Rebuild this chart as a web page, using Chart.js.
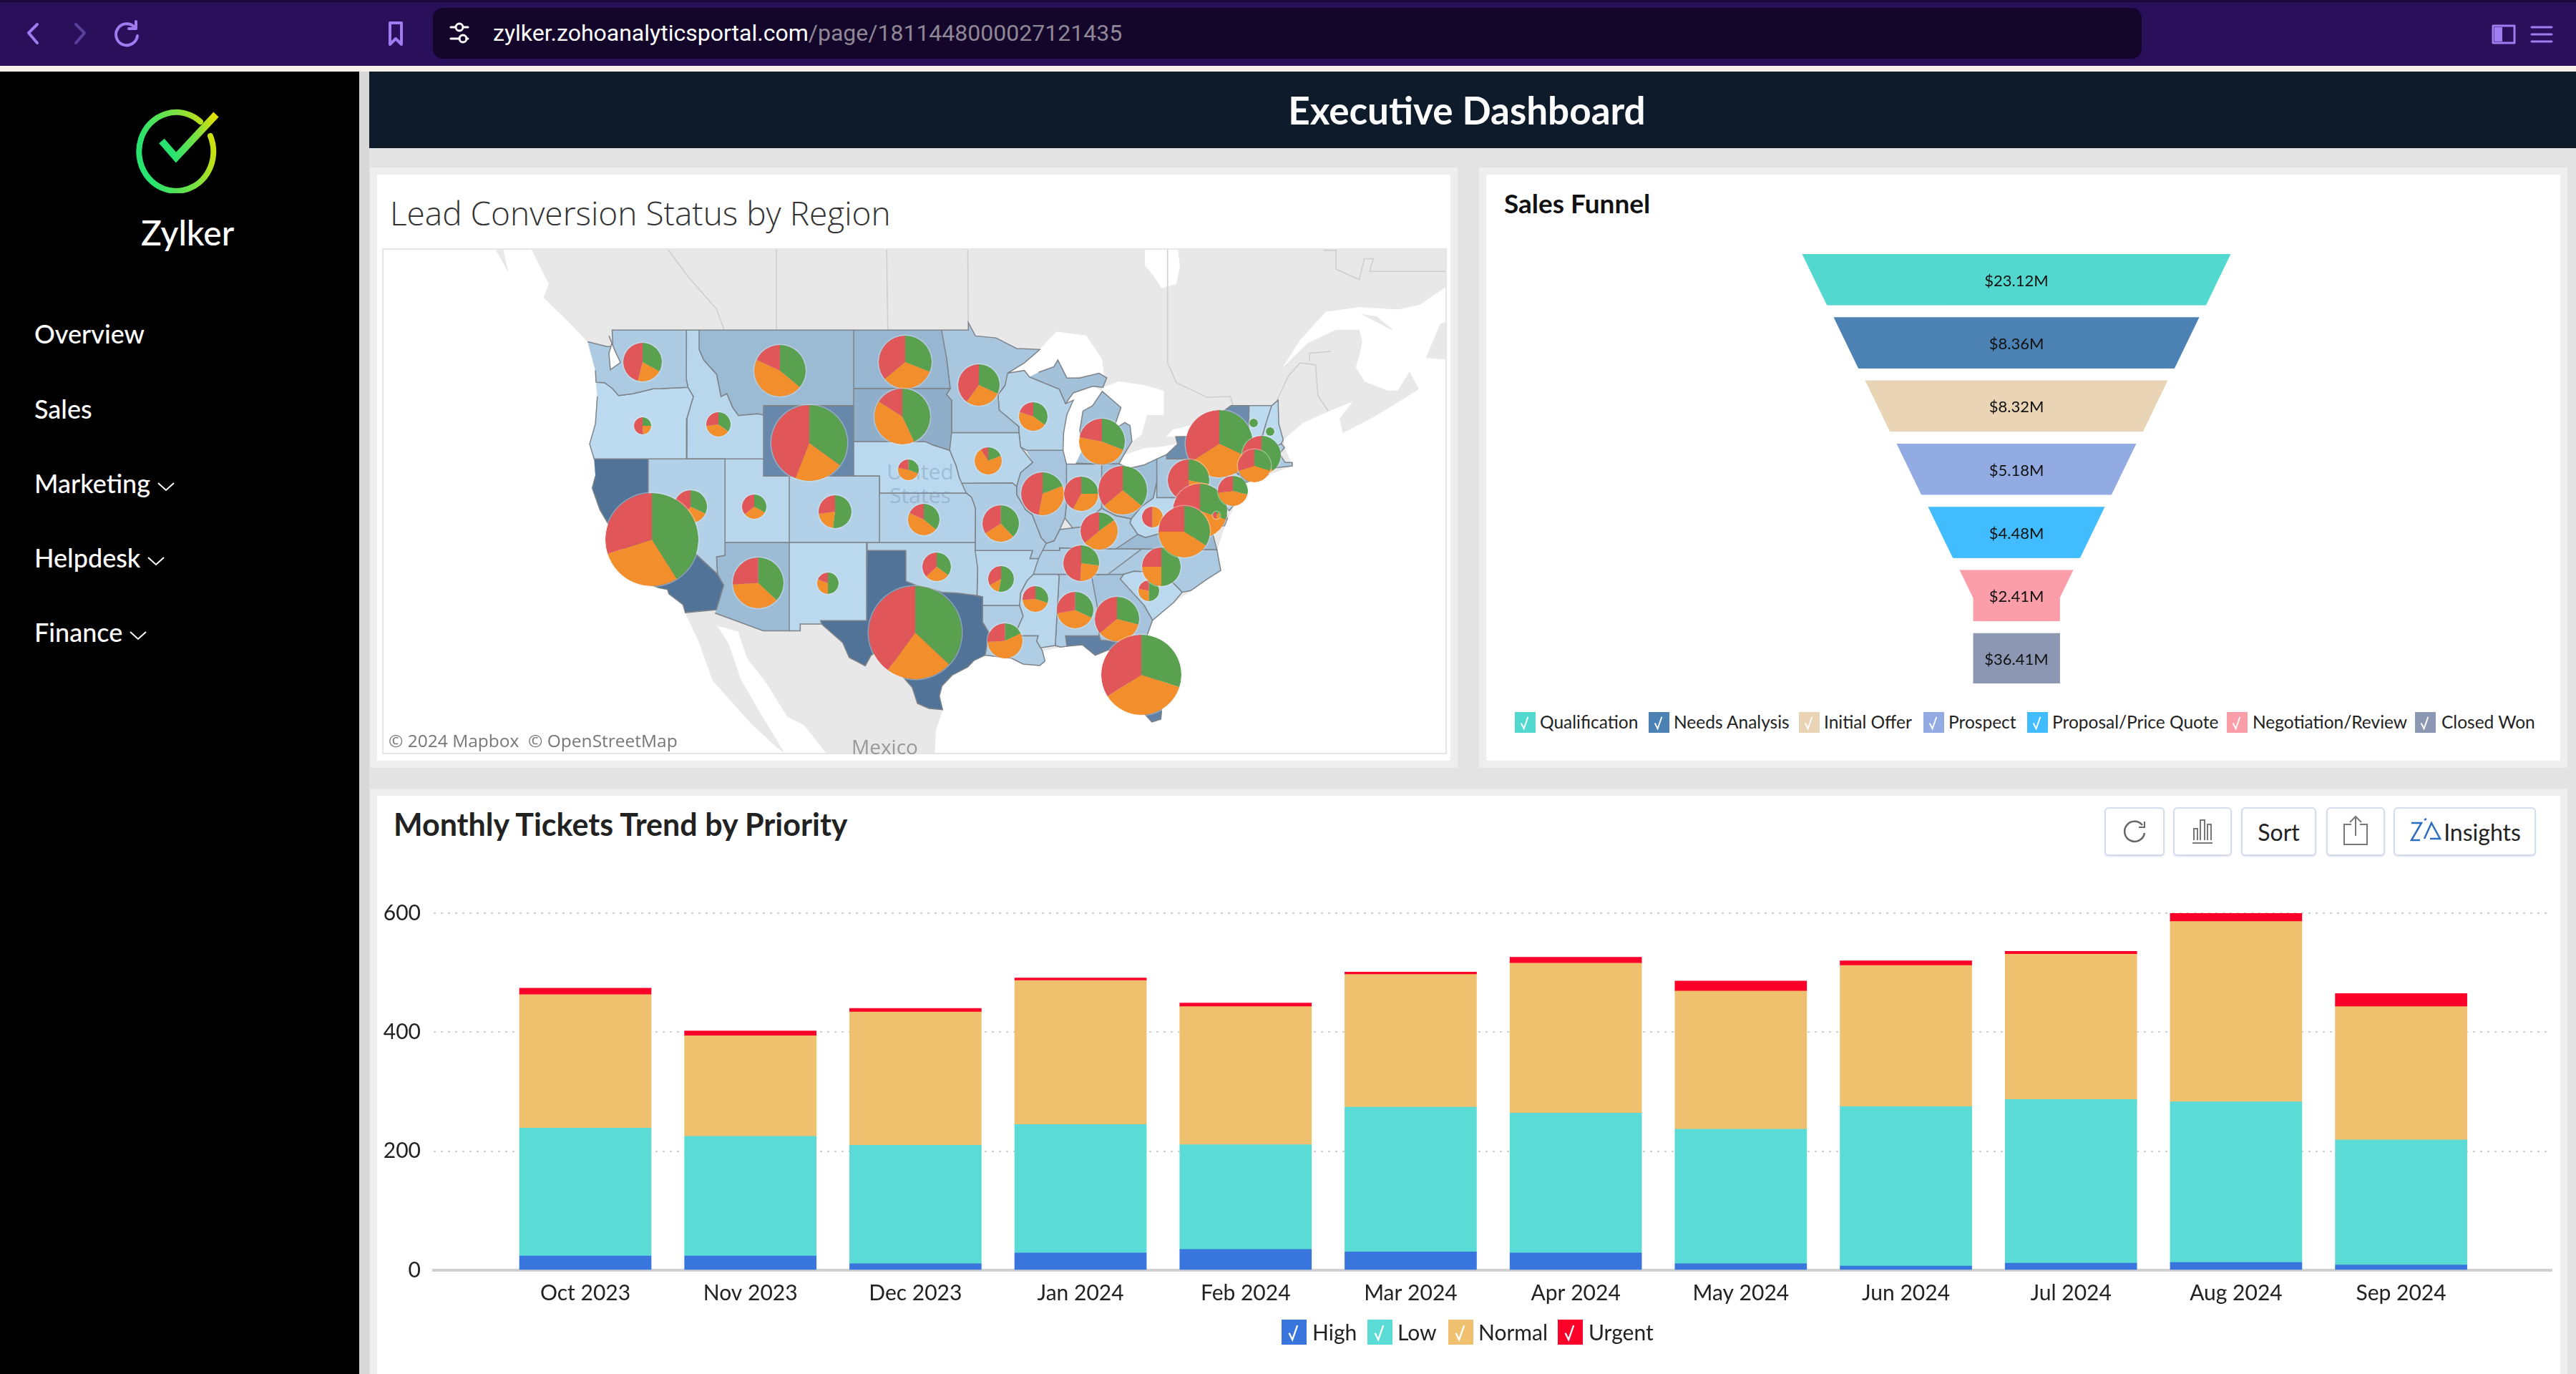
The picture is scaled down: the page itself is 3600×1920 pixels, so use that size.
<!DOCTYPE html>
<html>
<head>
<meta charset="utf-8">
<title>Executive Dashboard</title>
<script src="https://cdn.jsdelivr.net/npm/chart.js@4"></script>
<style>
html, body { margin: 0; padding: 0; }
body { width: 3600px; height: 1920px; overflow: hidden; position: relative; background: #e3e3e3; font-family: Lato, sans-serif; color: #222; }
.abs, canvas { position: absolute; }
.panel { position: absolute; background: #fff; box-shadow: 0 0 0 10px #eeeeee; }
.menu { position: absolute; left: 48px; color: #fff; font-size: 36px; line-height: 44px; font-weight: 500; white-space: nowrap; }
.menu svg { margin-left: 10px; vertical-align: 2px; }
.legend-box { position: absolute; }
.legend-text { position: absolute; white-space: nowrap; color: #222; }
.btn { position: absolute; top: 1128px; height: 64px; background: #fff; border: 2px solid #d5dcec; border-radius: 6px; display: flex; align-items: center; justify-content: center; font-size: 32px; color: #222; box-shadow: 0 1px 2px #dde; }
</style>
</head>
<body>

<!-- browser bar -->
<div class="abs" style="left:0;top:0;width:3600px;height:92px;background:#2a0f5b;border-top:3px solid #1a0a3c;box-sizing:border-box"></div>
<div class="abs" style="left:0;top:92px;width:3600px;height:8px;background:#f8f1e8"></div>
<div class="abs" style="left:605px;top:11px;width:2388px;height:71px;background:#14052a;border-radius:14px"></div>
<svg class="abs" style="left:0;top:0" width="3600" height="92" fill="none" stroke-linecap="round" stroke-linejoin="round">
  <path d="M52 34 L40 46 L52 60" stroke="#a07cf0" stroke-width="4"/>
  <path d="M106 34 L118 46 L106 60" stroke="#59409a" stroke-width="4"/>
  <path d="M188 38 A15 15 0 1 0 192 50 M190 30 L190 40 L180 40" stroke="#a07cf0" stroke-width="4"/>
  <path d="M545 32 H561 V62 L553 54 L545 62 Z" stroke="#a07cf0" stroke-width="4"/>
  <path d="M630 38 H636 M648 38 H654 M630 54 H642 M652 54 H654" stroke="#fff" stroke-width="3"/>
  <circle cx="642" cy="38" r="5" stroke="#fff" stroke-width="3"/><circle cx="647" cy="54" r="5" stroke="#fff" stroke-width="3"/>
  <rect x="3484" y="36" width="30" height="24" stroke="#a07cf0" stroke-width="3"/><rect x="3486" y="38" width="11" height="20" fill="#a07cf0"/>
  <path d="M3538 38 H3566 M3538 48 H3566 M3538 58 H3566" stroke="#a07cf0" stroke-width="3"/>
</svg>
<div class="abs" style="left:689px;top:27px;font:32px Roboto,sans-serif;white-space:nowrap;color:#fff">zylker.zohoanalyticsportal.com<span style="color:#8f8796">/page/1811448000027121435</span></div>

<!-- sidebar -->
<div class="abs" style="left:0;top:100px;width:502px;height:1820px;background:#000"></div>
<div class="abs" style="left:502px;top:100px;width:14px;height:1820px;background:#d8d8d8"></div>
<svg class="abs" style="left:180px;top:140px" width="140" height="130" viewBox="180 140 140 130" fill="none">
  <defs><linearGradient id="logoGrad" x1="0" x2="1" y1="0.3" y2="0"><stop offset="0" stop-color="#27e36f"/><stop offset="0.55" stop-color="#7fe040"/><stop offset="1" stop-color="#e6e000"/></linearGradient></defs>
  <path d="M280 170 A52 55 0 1 0 294 190" stroke="url(#logoGrad)" stroke-width="8" stroke-linecap="round"/>
  <path d="M226 197 L246 220 L302 160" stroke="url(#logoGrad)" stroke-width="10" stroke-linejoin="miter"/>
</svg>
<div class="abs" style="left:197px;top:296px;width:130px;text-align:center;color:#fff;font-size:48px;line-height:58px;font-weight:500">Zylker</div>
<div class="menu" style="top:444px">Overview</div>
<div class="menu" style="top:549px">Sales</div>
<div class="menu" style="top:653px">Marketing<svg width="24" height="14" fill="none"><path d="M1 2 L12 12 L23 2" stroke="#fff" stroke-width="2"/></svg></div>
<div class="menu" style="top:757px">Helpdesk<svg width="24" height="14" fill="none"><path d="M1 2 L12 12 L23 2" stroke="#fff" stroke-width="2"/></svg></div>
<div class="menu" style="top:861px">Finance<svg width="24" height="14" fill="none"><path d="M1 2 L12 12 L23 2" stroke="#fff" stroke-width="2"/></svg></div>

<!-- header -->
<div class="abs" style="left:516px;top:100px;width:3084px;height:107px;background:#0d1b2a"></div>
<div class="abs" style="left:516px;top:122px;width:3068px;text-align:center;color:#fff;font-size:53px;line-height:64px;font-weight:700">Executive Dashboard</div>

<!-- panels -->
<div class="panel" style="left:527px;top:244px;width:1500px;height:819px"></div>
<div class="panel" style="left:2077px;top:244px;width:1501px;height:819px"></div>
<div class="panel" style="left:527px;top:1112px;width:3051px;height:818px"></div>
<div class="abs" style="left:545px;top:266px;font:300 46px 'Open Sans',sans-serif;color:#333;white-space:nowrap">Lead Conversion Status by Region</div>
<div class="abs" style="left:2102px;top:260px;font-size:37px;line-height:48px;font-weight:700;color:#111;white-space:nowrap">Sales Funnel</div>
<div class="abs" style="left:550px;top:1127px;font-size:43px;line-height:50px;font-weight:700;color:#222;white-space:nowrap">Monthly Tickets Trend by Priority</div>

<!-- map -->
<div class="abs" style="left:534px;top:347px;width:1484px;height:703px;border:2px solid #e6e6e6"></div>
<canvas id="mapChart" width="1484" height="703" style="left:536px;top:349px"></canvas>
<div class="abs" style="left:1190px;top:1024px;font:28px 'Open Sans',sans-serif;color:#999">Mexico</div>
<div class="abs" style="left:1236px;top:642px;width:100px;text-align:center;font:30px/33px 'Open Sans',sans-serif;color:rgba(120,150,180,.45)">United States</div>
<div class="abs" style="left:537px;top:1018px;padding:0 6px 0 6px;background:rgba(255,255,255,.8);font:24.5px 'Open Sans',sans-serif;color:#777">© 2024 Mapbox &nbsp;© OpenStreetMap</div>
<div id="pies"></div>

<!-- funnel -->
<canvas id="funnelChart" width="640" height="600" style="left:2498px;top:355px"></canvas>
<div id="funnelLegend"></div>

<!-- tickets -->
<canvas id="ticketsChart" width="3051" height="620" style="left:527px;top:1240px"></canvas>
<div id="ticketsLegend"></div>
<div class="btn" style="left:2941px;width:80px"><svg width="44" height="44" fill="none" stroke="#666" stroke-width="2.5"><path d="M33 13 A14 14 0 1 0 36 24"/><path d="M36 8 V16 H28" stroke-width="2"/></svg></div>
<div class="btn" style="left:3037px;width:78px"><svg width="44" height="44" fill="none" stroke="#777" stroke-width="2"><path d="M8 38 H36 M10 34 V18 H15 V34 M19 34 V6 H25 V34 M29 34 V12 H34 V34"/></svg></div>
<div class="btn" style="left:3132px;width:101px">Sort</div>
<div class="btn" style="left:3251px;width:78px"><svg width="44" height="48" fill="none" stroke="#777" stroke-width="2"><path d="M16 14 H6 V42 H38 V14 H28 M22 30 V3 M14 11 L22 3 L30 11"/></svg></div>
<div class="btn" style="left:3345px;width:195px"><svg width="46" height="40" fill="none" stroke="#2d6dc0" stroke-width="2.5" style="margin-right:3px"><path d="M4 8 H18 L4 32 H16 M22 30 L32 8 L44 30 H30 M22 4 L25 2"/></svg>Insights</div>

<script>
// Tickets by month and priority
const ticketMonths = ['Oct 2023', 'Nov 2023', 'Dec 2023', 'Jan 2024', 'Feb 2024', 'Mar 2024', 'Apr 2024', 'May 2024', 'Jun 2024', 'Jul 2024', 'Aug 2024', 'Sep 2024'];
const ticketsHigh = [24, 24, 11, 29, 35, 31, 29, 11, 7, 12, 13, 9];
const ticketsLow = [215, 201, 199, 216, 176, 243, 235, 226, 268, 275, 270, 210];
const ticketsNormal = [224, 169, 224, 242, 232, 223, 252, 232, 237, 244, 303, 224];
const ticketsUrgent = [11, 8, 6, 4, 6, 4, 10, 17, 8, 5, 14, 22];

// Sales funnel
const funnelStages = ['Qualification', 'Needs Analysis', 'Initial Offer', 'Prospect', 'Proposal/Price Quote', 'Negotiation/Review', 'Closed Won'];
const funnelValues = [23.12, 8.36, 8.32, 5.18, 4.48, 2.41, 36.41];

// Leads per state: where the pie sits, how many leads, and the split in percent
const regionNames = ['WA','OR','ID','MT','ND','SD','WY','NE','NV','UT','CO','KS','CA','AZ','NM','OK','TX','MN','IA','WI','MI','IL','MO','IN','OH','KY','WV','AR','TN','MS','AL','GA','LA','FL','SC','NC','NY','PA','MD','DE','VA','NJ','VT','NH','MA','CT'];
const regionLon = [-120.44,-120.44,-114.55,-109.77,-100.05,-100.27,-107.52,-99.8,-116.72,-111.77,-105.52,-98.61,-119.72,-111.49,-106.05,-97.61,-99.27,-94.33,-93.61,-90.1,-84.77,-89.38,-92.61,-86.38,-83.16,-85.02,-80.88,-92.61,-86.38,-89.94,-86.88,-83.61,-92.33,-81.72,-81.16,-80.16,-75.69,-78.05,-77.16,-75.88,-78.41,-74.61,-73.0,-71.72,-72.38,-72.94];
const regionLat = [47.35,43.89,43.97,46.87,47.35,44.42,42.91,41.39,39.2,39.17,38.9,38.41,37.2,34.47,34.42,35.47,31.21,46.12,41.88,44.4,42.99,39.96,38.16,39.96,40.17,37.69,38.55,34.71,35.69,33.44,32.69,32.12,30.67,28.39,33.95,35.47,42.87,40.78,38.95,38.68,37.67,40.13,44.05,43.56,42.2,41.6];
const regionLeads = [729,144,289,1296,1369,1521,2809,210,529,289,529,484,4225,1260,225,400,4225,841,361,400,1024,900,655,576,1156,676,210,324,625,324,655,961,600,3136,210,729,2209,841,1444,25,1296,441,36,36,729,529];
const regionGreen = [33,25,35,36,31,43,35,31,32,33,52,36,41,37,50,35,37,32,19,35,31,19,38,25,36,15,0,53,27,30,32,29,18,30,50,50,32,28,30,10,34,29,100,100,40,30];
const regionOrange = [21,24,38,46,33,41,21,47,28,31,21,46,29,37,31,28,23,28,72,45,47,34,28,33,28,49,50,14,24,44,40,35,56,36,28,25,34,20,20,40,41,44,0,0,20,40];
const regionRed = [46,51,27,18,36,16,44,22,40,36,27,18,30,26,19,37,40,40,9,20,22,47,34,42,36,36,50,33,49,26,28,36,26,34,22,25,34,52,50,50,25,27,0,0,40,30];

// Base map outlines as lon,lat pairs
const stateOutlines = {
  WA: [-124.7,48.4,-123.2,48.15,-122.75,48.15,-122.8,49,-117.03,49,-117.04,46.42,-116.92,46,-119,45.93,-119.6,45.92,-121.2,45.65,-122.3,45.55,-122.8,45.95,-123.4,46.25,-124.05,46.27,-124.1,46.9],
  OR: [-124.05,46.27,-123.4,46.25,-122.8,45.95,-122.3,45.55,-121.2,45.65,-119.6,45.92,-119,45.93,-116.92,46,-116.5,45.5,-117,44.3,-117.03,42,-124.2,42,-124.55,42.85,-124.1,44,-123.95,45.5],
  CA: [-124.2,42,-120,42,-120,39,-114.63,35,-114.15,34.3,-114.72,32.72,-117.12,32.53,-117.3,33.05,-118.4,33.75,-118.5,34.03,-119.2,34.15,-120.6,34.55,-120.65,35.15,-121.9,36.6,-122.5,37.5,-123,38,-123.75,39,-124.35,40.3,-124.1,41],
  NV: [-120,42,-114.04,42,-114.04,36.2,-114.7,36.1,-114.63,35,-120,39],
  ID: [-117.03,49,-116.05,49,-116.05,48,-115.7,47.45,-114.7,46.7,-114.35,45.5,-113.9,45.65,-113.45,44.9,-113,44.45,-111.5,44.55,-111.05,44.48,-111.05,42,-117.03,42,-117,44.3,-116.5,45.5,-116.92,46,-117.04,46.42],
  MT: [-116.05,49,-104.05,49,-104.05,45,-111.05,45,-111.05,44.48,-111.5,44.55,-113,44.45,-113.45,44.9,-113.9,45.65,-114.35,45.5,-114.7,46.7,-115.7,47.45,-116.05,48],
  WY: [-111.05,45,-104.05,45,-104.05,41,-111.05,41],
  UT: [-114.04,42,-111.05,42,-111.05,41,-109.05,41,-109.05,37,-114.04,37],
  CO: [-109.05,41,-102.05,41,-102.05,37,-109.05,37],
  AZ: [-114.72,32.72,-114.15,34.3,-114.63,35,-114.7,36.1,-114.04,36.2,-114.04,37,-109.05,37,-109.05,31.33,-111.07,31.33,-114.81,32.5],
  NM: [-109.05,37,-103,37,-103.05,32,-106.62,32,-106.53,31.78,-108.2,31.78,-108.2,31.33,-109.05,31.33],
  ND: [-104.05,49,-97.23,49,-96.85,47.6,-96.56,45.94,-104.05,45.94],
  SD: [-104.05,45.94,-96.56,45.94,-96.85,45.6,-96.45,45.3,-96.45,43.5,-96.6,42.5,-97.9,42.8,-98.5,43,-104.05,43],
  NE: [-104.05,43,-98.5,43,-97.9,42.8,-96.6,42.5,-96.1,41.6,-95.85,40.9,-95.31,40,-102.05,40,-102.05,41,-104.05,41],
  KS: [-102.05,40,-95.31,40,-94.9,39.75,-94.6,39.1,-94.62,37,-102.05,37],
  OK: [-103,37,-94.62,37,-94.62,36.5,-94.43,35.4,-94.48,33.64,-96,33.8,-97.2,33.85,-98.1,34.1,-99.2,34.3,-100,34.56,-100,36.5,-103,36.5],
  TX: [-106.62,32,-103.05,32,-103.04,36.5,-100,36.5,-100,34.56,-99.2,34.3,-98.1,34.1,-97.2,33.85,-96,33.8,-94.48,33.64,-94.04,33.55,-94.04,33,-94.05,31.9,-93.55,31.2,-93.85,29.7,-94.7,29.35,-95.2,28.9,-96.4,28.35,-97.2,27.6,-97.4,26.9,-97.15,25.96,-98.2,26.05,-99.1,26.4,-99.5,27.5,-100.3,28.3,-100.7,29.1,-101.4,29.77,-102.3,29.88,-102.7,29.7,-103.15,28.98,-104.4,29.55,-104.9,30.55,-106.5,31.75],
  MN: [-97.23,49,-95.15,49,-95.15,49.38,-94.6,48.7,-93,48.6,-91.4,48.05,-89.6,48,-90.8,47.3,-92.1,46.75,-92.3,46.1,-92.85,45.6,-92.75,44.75,-91.25,43.85,-91.22,43.5,-96.45,43.5,-96.45,45.3,-96.85,45.6,-96.56,45.94,-96.85,47.6],
  IA: [-96.45,43.5,-91.22,43.5,-91.1,42.7,-90.15,41.8,-91.1,41.2,-91.4,40.4,-91.73,40.61,-95.76,40.58,-95.85,40.9,-96.1,41.6,-96.6,42.5],
  MO: [-95.76,40.58,-91.73,40.61,-91.4,40.4,-91.4,39.9,-90.7,39,-90.2,38.7,-89.5,37.3,-89.1,36.95,-89.7,36,-90.35,36,-90.15,36.5,-94.62,36.5,-94.62,37,-94.6,39.1,-94.9,39.75,-95.31,40],
  AR: [-94.62,36.5,-90.15,36.5,-90.35,36,-89.7,36,-90.1,35,-90.6,34.6,-91.1,33.8,-91.17,33,-94.04,33,-94.04,33.55,-94.48,33.64,-94.43,35.4],
  LA: [-94.04,33,-91.17,33,-90.9,32.3,-91.6,31,-89.73,31,-89.85,30.65,-89.55,30.2,-89.4,30,-89.2,29.3,-89.6,29,-90.9,29.1,-91.8,29.5,-93.85,29.7,-93.55,31.2,-94.05,31.9],
  WI: [-92.1,46.75,-90.8,46.9,-90.4,46.55,-88.1,45.9,-87.6,45.1,-87,45.3,-87.5,44.5,-87.75,43.5,-87.8,42.5,-90.65,42.5,-91.1,42.7,-91.22,43.5,-91.25,43.85,-92.75,44.75,-92.85,45.6,-92.3,46.1],
  IL: [-90.65,42.5,-87.8,42.5,-87.53,41.7,-87.53,39.35,-87.65,38.5,-88.05,37.8,-88.5,37.1,-89.1,36.95,-89.5,37.3,-90.2,38.7,-90.7,39,-91.4,39.9,-91.4,40.4,-91.1,41.2,-90.15,41.8],
  IN: [-87.53,41.7,-87,41.7,-84.8,41.7,-84.8,39.1,-85.4,38.7,-86,38,-87.05,37.9,-87.65,38.5,-87.53,39.35],
  MI: [-86.8,41.76,-84.8,41.7,-83.45,41.73,-83.1,42.2,-82.45,43,-82.6,43.9,-83,44.07,-83.9,43.65,-83.3,44.9,-84.75,45.78,-85.5,45,-86.25,44.7,-86.5,43.6,-86.2,42.7],
  UP: [-90.4,46.55,-88.1,45.9,-87.6,45.1,-87,45.7,-85.5,46.05,-84.7,46,-84.4,46.5,-85,46.75,-86.5,46.5,-87.5,46.5,-88.2,47.45,-88.5,47.1,-89.7,46.8],
  OH: [-84.8,41.7,-83.45,41.73,-82.7,41.45,-81.5,41.65,-80.52,42,-80.52,40.65,-80.8,39.7,-81.7,39.2,-82.5,38.45,-83.7,38.65,-84.8,39.1],
  KY: [-89.5,36.5,-88.07,36.5,-88.07,36.67,-83.7,36.6,-82,37.5,-82.6,38.2,-82.5,38.45,-83.7,38.65,-84.8,39.1,-85.4,38.7,-86,38,-87.05,37.9,-88.05,37.8,-88.5,37.1,-89.1,36.95],
  TN: [-90.1,35,-88.2,35,-84.32,34.99,-81.7,36.59,-83.7,36.6,-88.07,36.67,-88.07,36.5,-89.5,36.5,-89.7,36],
  MS: [-90.1,35,-88.2,35,-88.1,34.9,-88.4,30.35,-89.55,30.2,-89.85,30.65,-89.73,31,-91.6,31,-90.9,32.3,-91.17,33,-91.1,33.8,-90.6,34.6],
  AL: [-88.2,35,-85.6,34.98,-85,32.3,-85,31,-87.6,31,-87.5,30.3,-88,30.25,-88.4,30.35,-88.1,34.9],
  GA: [-85.6,34.98,-83.1,35,-83.35,34.7,-81.5,33,-80.85,32.03,-81.4,30.72,-82.05,30.36,-82.2,30.57,-84.86,30.7,-85,31,-85,32.3],
  FL: [-87.6,31,-85,31,-84.86,30.7,-82.2,30.57,-82.05,30.36,-81.4,30.72,-80.6,28.5,-80.05,26.9,-80.2,25.3,-80.9,25.1,-81.75,25.95,-82.65,27.7,-82.75,28.9,-83.7,29.9,-84.3,30.05,-85.3,29.7,-86.3,30.4,-87.5,30.3],
  SC: [-83.35,34.7,-83.1,35,-82.3,35.2,-81,35.15,-80.8,34.82,-79.67,34.8,-78.55,33.86,-79.2,33.2,-80.85,32.03,-81.5,33],
  NC: [-84.32,34.99,-83.1,35,-82.3,35.2,-81,35.15,-80.8,34.82,-79.67,34.8,-78.55,33.86,-77.9,33.95,-76.6,34.7,-75.55,35.25,-75.85,36.55,-81.7,36.59],
  VA: [-83.7,36.6,-81.7,36.59,-75.85,36.55,-76,37,-76.3,37.9,-77.2,38.4,-77.05,38.85,-77.75,39.3,-78.35,39.4,-78.85,38.8,-79.65,38.55,-80.3,37.55,-81.4,37.3,-82,37.5],
  WV: [-82.5,38.45,-82.6,38.2,-82,37.5,-81.4,37.3,-80.3,37.55,-79.65,38.55,-78.85,38.8,-78.35,39.4,-77.75,39.3,-78.2,39.7,-79.48,39.72,-80.52,39.72,-80.52,40.65,-80.8,39.7,-81.7,39.2],
  MD: [-79.48,39.72,-75.79,39.72,-75.7,38.46,-75.05,38.45,-75.25,38.03,-75.95,37.95,-76.1,39.2,-76.5,38.4,-77.2,38.4,-77.05,38.85,-77.75,39.3,-78.2,39.7],
  DE: [-75.79,39.72,-75.4,39.8,-75.05,38.45,-75.7,38.46],
  PA: [-80.52,42,-79.76,42.25,-79.76,42,-75.35,42,-74.7,41.36,-75.13,40.98,-75.05,40.4,-74.75,40.2,-75.4,39.8,-75.79,39.72,-80.52,39.72],
  NY: [-79.76,42.25,-78.9,42.85,-79.05,43.27,-76.8,43.3,-76.2,43.55,-76.3,44.2,-74.75,45,-73.35,45,-73.4,43.6,-73.25,42.75,-73.5,42.05,-73.5,41.3,-73.65,41,-72,41.05,-73.7,40.6,-74,40.6,-73.95,41,-74.7,41.36,-75.35,42,-79.76,42],
  NJ: [-74.7,41.36,-73.95,41,-74.1,40.5,-73.95,39.9,-74.4,39.4,-74.9,38.95,-75.55,39.5,-74.75,40.2,-75.05,40.4,-75.13,40.98],
  CT: [-73.5,42.05,-71.8,42.02,-71.85,41.32,-73.65,41,-73.5,41.3],
  RI: [-71.8,42.02,-71.38,42.02,-71.2,41.5,-71.85,41.32],
  MA: [-73.5,42.05,-73.25,42.75,-71.3,42.7,-70.85,42.87,-70.6,42.65,-71,42.3,-70.55,41.8,-70,41.8,-70,41.6,-71.2,41.5,-71.38,42.02,-71.8,42.02],
  VT: [-73.35,45,-71.6,45,-72.05,44,-72.45,43,-72.46,42.73,-73.25,42.75,-73.4,43.6],
  NH: [-71.6,45,-71.1,45.3,-71.05,44,-70.7,43.1,-70.85,42.87,-71.3,42.7,-72.46,42.73,-72.45,43,-72.05,44]
};
const pugetSound = [-123.05,48.7,-122.6,47.96,-122.16,47.32,-122.94,46.94,-123.05,47.8,-122.83,48.3];
const landOutlines = [
  [-129.5,54,-129.1,53,-127.7,51.3,-128.1,50.63,-126,49.3,-124.7,48.4,-124.1,46.9,-124.05,46.27,-123.95,45.5,-124.1,44,-124.55,42.85,-124.2,42,-124.1,41,-124.35,40.3,-123.75,39,-123,38,-122.5,37.5,-121.9,36.6,-120.65,35.15,-120.6,34.55,-119.2,34.15,-118.5,34.03,-118.4,33.75,-117.3,33.05,-117.12,32.53,-116,30.5,-115,28,-114,27,-112,25,-110,23.3,-109.5,23,-110.5,24.5,-111.5,26,-112.8,28,-113.8,30.5,-114.7,31.7,-113,31.3,-112.3,29.5,-110.8,27.8,-109.2,25.5,-107.9,24.9,-106.3,23.06,-105.5,22,-105,20,-97.5,20,-97.8,22.3,-97.7,24.5,-97.15,25.96,-97.4,26.9,-97.2,27.6,-96.4,28.35,-95.2,28.9,-94.7,29.35,-93.85,29.7,-91.8,29.5,-90.9,29.1,-89.6,29,-89.2,29.3,-89.4,30,-88,30.25,-86.3,30.4,-85.3,29.7,-84.3,30.05,-83.7,29.9,-82.75,28.9,-82.65,27.7,-81.75,25.95,-80.9,25.1,-80.2,25.3,-80.05,26.9,-80.6,28.5,-81.4,30.72,-80.85,32.03,-79.2,33.2,-77.9,33.95,-76.6,34.7,-75.55,35.25,-75.85,36.55,-75.25,38.03,-74.4,39.4,-74,40.6,-72,41.05,-70,41.6,-70.6,42.65,-70.7,43.1,-69.2,44.05,-67.2,44.7,-65.1,45.3,-64.3,45.8,-65.3,45.2,-66.3,44.3,-66.07,43.5,-63.66,44.4,-61.8,45.2,-60.2,45.9,-60.9,46.8,-61.8,45.8,-62.6,45.8,-64.4,46.3,-65.1,47.07,-64.8,47.7,-64.6,48.4,-64.8,49,-66.6,49,-68.8,48.31,-70.9,46.94,-69.4,48.5,-67.4,49.94,-64.8,50.17,-61.8,50.05,-60.1,50.29,-58.3,51.07,-57,51.3,-57,54],
  [-59.6,47.56,-58.5,49.3,-57.4,49.57,-57,49.7,-57,47.43],
  [-64.6,49.8,-62.2,49,-63.5,49.7],
  [-132.4,53.5,-131.5,53.5,-130.9,51.9]
];
const waterOutlines = [
  [-92.1,46.75,-90.4,46.6,-88.5,47,-88.2,47.45,-87.5,46.5,-85,46.75,-84.6,46.5,-84.8,47.5,-86,48.7,-88.3,48.9,-89.6,48,-90.8,47.3],
  [-87.8,42.5,-87.53,41.7,-87,41.7,-86.8,41.76,-86.2,42.7,-86.5,43.6,-86.25,44.7,-85.5,45,-84.75,45.78,-85.5,46.05,-87,45.7,-87.6,45.1,-87,45.3,-87.5,44.5,-87.75,43.5],
  [-84.7,46,-84.75,45.78,-83.3,44.9,-83.9,43.65,-83,44.07,-82.6,43.9,-82.45,43,-81.7,43.4,-81.3,44.5,-80,44.5,-80,45.8,-81.5,46.1,-83.5,46.3],
  [-83.45,41.73,-82.7,41.45,-81.5,41.65,-80.52,42,-79.76,42.25,-78.9,42.85,-80,42.7,-81.5,42.6,-83.1,42.2],
  [-79.76,43.3,-79.05,43.27,-76.8,43.3,-76.2,43.55,-76.3,44.1,-77.5,43.95,-79.3,43.65],
  [-81.44,53.5,-79,53.5,-78.75,52.1,-79.03,51.3,-80.14,51.1,-80.7,51.65,-81.44,52.2]
];
const borderLines = [
  [-119,53.5,-118.55,53,-116.9,51.64,-114.7,50.06,-114.1,49],
  [-110.05,53.5,-110.05,49],
  [-101.5,53.5,-101.4,49],
  [-95.2,53.5,-95.15,49.38],
  [-79.68,53.5,-79.68,47.3,-79,46.25,-76.6,45.45,-74.8,45.5,-74.6,45],
  [-71.25,45.2,-70.3,46.6,-69.4,47.3,-68.2,47.2,-68,45.55,-67.2,44.7],
  [-68.66,47.4,-68.66,47.8,-67,47.9],
  [-67.55,53.5,-67.55,52.9,-66.6,52.9,-66.6,52,-64.8,51.5,-64.4,52.5,-63.7,52.5,-64,51.9,-57,51.9]
];

// Web Mercator latitude, so the northern border stays straight and the map is in proportion
function mercator(lat) {
  return 180 / Math.PI * Math.log(Math.tan(Math.PI / 4 + lat * Math.PI / 360));
}

function toPoints(flat) {
  const pts = [];
  for (let i = 0; i < flat.length; i += 2) pts.push({ x: flat[i], y: mercator(flat[i + 1]) });
  return pts;
}

// Choropleth colour from the lead count of the state, the ramp
const rampLeads = [144, 1296, 2209, 2809, 3136, 4225];
const rampShare = [0, 0.32, 0.76, 0.8, 0.87, 1];
function leadsColor(leads) {
  const light = [189, 219, 240], dark = [82, 115, 152];
  let t = leads >= 4225 ? 1 : 0;
  for (let i = 0; i < rampLeads.length - 1; i++) {
    if (leads >= rampLeads[i] && leads < rampLeads[i + 1]) {
      t = rampShare[i] + (rampShare[i + 1] - rampShare[i]) * (leads - rampLeads[i]) / (rampLeads[i + 1] - rampLeads[i]);
    }
  }
  const c = light.map((v, i) => Math.round(v + (dark[i] - v) * t));
  return `rgb(${c[0]},${c[1]},${c[2]})`;
}

function polygon(flat, fillColor, lineColor, lineWidth) {
  return { data: toPoints(flat), showLine: true, fill: 'shape', backgroundColor: fillColor, borderColor: lineColor, borderWidth: lineWidth, pointRadius: 0 };
}

// Chart.js paints the first dataset last, so the list runs from top layer to bottom layer
const mapDatasets = [polygon(pugetSound, '#ffffff', '#7d8389', 1.5)];
for (const name in stateOutlines) {
  const key = name === 'UP' ? 'MI' : name;
  const idx = regionNames.indexOf(key);
  const leads = idx >= 0 ? regionLeads[idx] : 144;
  mapDatasets.push(polygon(stateOutlines[name], leadsColor(leads), '#7d8389', 1.5));
}
borderLines.forEach(b => mapDatasets.push({ data: toPoints(b), showLine: true, fill: false, borderColor: '#cdcdcd', borderWidth: 1.5, pointRadius: 0 }));
waterOutlines.forEach(w => mapDatasets.push(polygon(w, '#ffffff', '#ffffff', 1)));
landOutlines.forEach(l => mapDatasets.push(polygon(l, '#e8e8e8', '#e8e8e8', 1)));

const mapChart = new Chart(document.getElementById('mapChart'), {
  type: 'scatter',
  data: { datasets: mapDatasets },
  options: {
    responsive: false,
    animation: false,
    plugins: { legend: { display: false }, tooltip: { enabled: false } },
    layout: { padding: 0 },
    scales: {
      x: { type: 'linear', display: false, min: -140.55, max: -58.11 },
      y: { type: 'linear', display: false, min: 23.55, max: 62.6 }
    }
  }
});

// One small pie per state, placed with the map chart's scales
const piesDiv = document.getElementById('pies');
regionNames.forEach((name, i) => {
  const r = Math.sqrt(regionLeads[i]);
  const size = Math.round(r * 2);
  const cx = 536 + mapChart.scales.x.getPixelForValue(regionLon[i]);
  const cy = 349 + mapChart.scales.y.getPixelForValue(mercator(regionLat[i]));
  const canvas = document.createElement('canvas');
  canvas.width = size;
  canvas.height = size;
  canvas.style.left = (cx - size / 2) + 'px';
  canvas.style.top = (cy - size / 2) + 'px';
  canvas.style.borderRadius = '50%';
  canvas.style.boxShadow = '0 0 0 1.5px rgba(235,235,235,.4)';
  piesDiv.appendChild(canvas);
  new Chart(canvas, {
    type: 'pie',
    data: {
      labels: ['Won', 'Open', 'Lost'],
      datasets: [{ data: [regionGreen[i], regionOrange[i], regionRed[i]], backgroundColor: ['#59a14f', '#f28e2b', '#e15759'], borderWidth: 0 }]
    },
    options: { responsive: false, animation: false, layout: { padding: 0 }, plugins: { legend: { display: false }, tooltip: { enabled: false } } }
  });
});

// Funnel: Chart.js has no funnel type, so each stage is a closed shape on linear scales
const funnelColors = ['#53d8d0', '#4b82b3', '#e9d5b5', '#92abe3', '#40bcff', '#fb9ea9', '#8b97b3'];
const funnelDatasets = funnelStages.map((stage, i) => {
  const neck = 60, slope = 34.4, band = 0.805;
  const top = Math.max(299 - 44 * i, neck);
  const bottom = top - slope;
  const right = [{ x: top, y: i }];
  if (bottom < neck) {
    if (top > neck) right.push({ x: neck, y: i + band * (top - neck) / slope });
    right.push({ x: neck, y: i + band });
  } else {
    right.push({ x: bottom, y: i + band });
  }
  const left = right.slice().reverse().map(p => ({ x: -p.x, y: p.y }));
  return { label: stage, data: right.concat(left), showLine: true, fill: 'shape', backgroundColor: funnelColors[i], borderColor: funnelColors[i], borderWidth: 1, pointRadius: 0 };
});

const funnelValueLabels = {
  id: 'funnelValueLabels',
  afterDatasetsDraw(chart) {
    const { ctx, scales } = chart;
    ctx.save();
    ctx.font = '22px Lato';
    ctx.fillStyle = '#111';
    ctx.textAlign = 'center';
    ctx.textBaseline = 'middle';
    funnelValues.forEach((v, i) => {
      ctx.fillText('$' + v.toFixed(2) + 'M', scales.x.getPixelForValue(0), scales.y.getPixelForValue(i + 0.4025) + 2);
    });
    ctx.restore();
  }
};

new Chart(document.getElementById('funnelChart'), {
  type: 'scatter',
  data: { datasets: funnelDatasets },
  options: {
    responsive: false,
    animation: false,
    plugins: { legend: { display: false }, tooltip: { enabled: false } },
    layout: { padding: 0 },
    scales: {
      x: { type: 'linear', display: false, min: -320, max: 320 },
      y: { type: 'linear', display: false, reverse: true, min: 0, max: 6.795 }
    }
  },
  plugins: [funnelValueLabels]
});

// Stacked tickets. The x axis is linear so the axis line can run past the first and last bars
const ticketColors = { High: '#3875dc', Low: '#5adbd5', Normal: '#efc06d', Urgent: '#fb0029' };
function ticketSeries(label, values) {
  return { label, data: values.map((v, i) => ({ x: i, y: v })), backgroundColor: ticketColors[label], barThickness: 184 };
}

new Chart(document.getElementById('ticketsChart'), {
  type: 'bar',
  data: {
    datasets: [
      ticketSeries('High', ticketsHigh),
      ticketSeries('Low', ticketsLow),
      ticketSeries('Normal', ticketsNormal),
      ticketSeries('Urgent', ticketsUrgent)
    ]
  },
  options: {
    responsive: false,
    animation: false,
    plugins: { legend: { display: false }, tooltip: { enabled: false } },
    layout: { padding: { top: 24, right: 12, left: 0, bottom: 0 } },
    scales: {
      x: {
        type: 'linear',
        stacked: true,
        offset: false,
        min: -0.919,
        max: 11.912,
        afterFit(scale) { scale.height = 85; },
        grid: { display: false, offset: false, drawTicks: false },
        border: { color: '#d0d0d0', width: 4 },
        ticks: {
          stepSize: 1,
          includeBounds: false,
          autoSkip: false,
          maxRotation: 0,
          padding: 14,
          color: '#222',
          font: { family: 'Lato', size: 30 },
          callback: v => ticketMonths[v] || ''
        }
      },
      y: {
        stacked: true,
        min: 0,
        max: 600,
        afterFit(scale) { scale.width = 79; },
        grid: { color: '#cfcfcf', lineWidth: 2, drawTicks: false },
        border: { display: false, dash: [3, 7] },
        ticks: { stepSize: 200, padding: 18, color: '#222', font: { family: 'Lato', size: 30 } }
      }
    }
  }
});

// Check-box legends, as in the Zoho page
function addLegend(holder, items, box, fontSize, boxTop) {
  const div = document.getElementById(holder);
  items.forEach(it => {
    const b = document.createElementNS('http://www.w3.org/2000/svg', 'svg');
    b.setAttribute('class', 'legend-box');
    b.setAttribute('width', box);
    b.setAttribute('height', box);
    b.setAttribute('viewBox', '0 0 30 30');
    b.style.left = it.boxX + 'px';
    b.style.top = boxTop + 'px';
    b.innerHTML = `<rect width="30" height="30" fill="${it.color}"/><path d="M9 16 L13 24 L19 7" fill="none" stroke="#fff" stroke-width="2"/>`;
    div.appendChild(b);
    const t = document.createElement('div');
    t.className = 'legend-text';
    t.textContent = it.label;
    t.style.left = it.textX + 'px';
    t.style.top = (boxTop + box / 2 - fontSize * 0.62) + 'px';
    t.style.fontSize = fontSize + 'px';
    div.appendChild(t);
  });
}

const funnelBoxX = [2117, 2304, 2514, 2688, 2833, 3112, 3375];
const funnelTextX = [2152, 2339, 2549, 2723, 2868, 3148, 3412];
addLegend('funnelLegend', funnelStages.map((label, i) => ({ label, color: funnelColors[i], boxX: funnelBoxX[i], textX: funnelTextX[i] })), 29, 24.5, 995);

const ticketBoxX = [1791, 1911, 2024, 2177];
const ticketTextX = [1834, 1953, 2066, 2220];
addLegend('ticketsLegend', Object.keys(ticketColors).map((label, i) => ({ label, color: ticketColors[label], boxX: ticketBoxX[i], textX: ticketTextX[i] })), 35, 30, 1844);
</script>
</body>
</html>
